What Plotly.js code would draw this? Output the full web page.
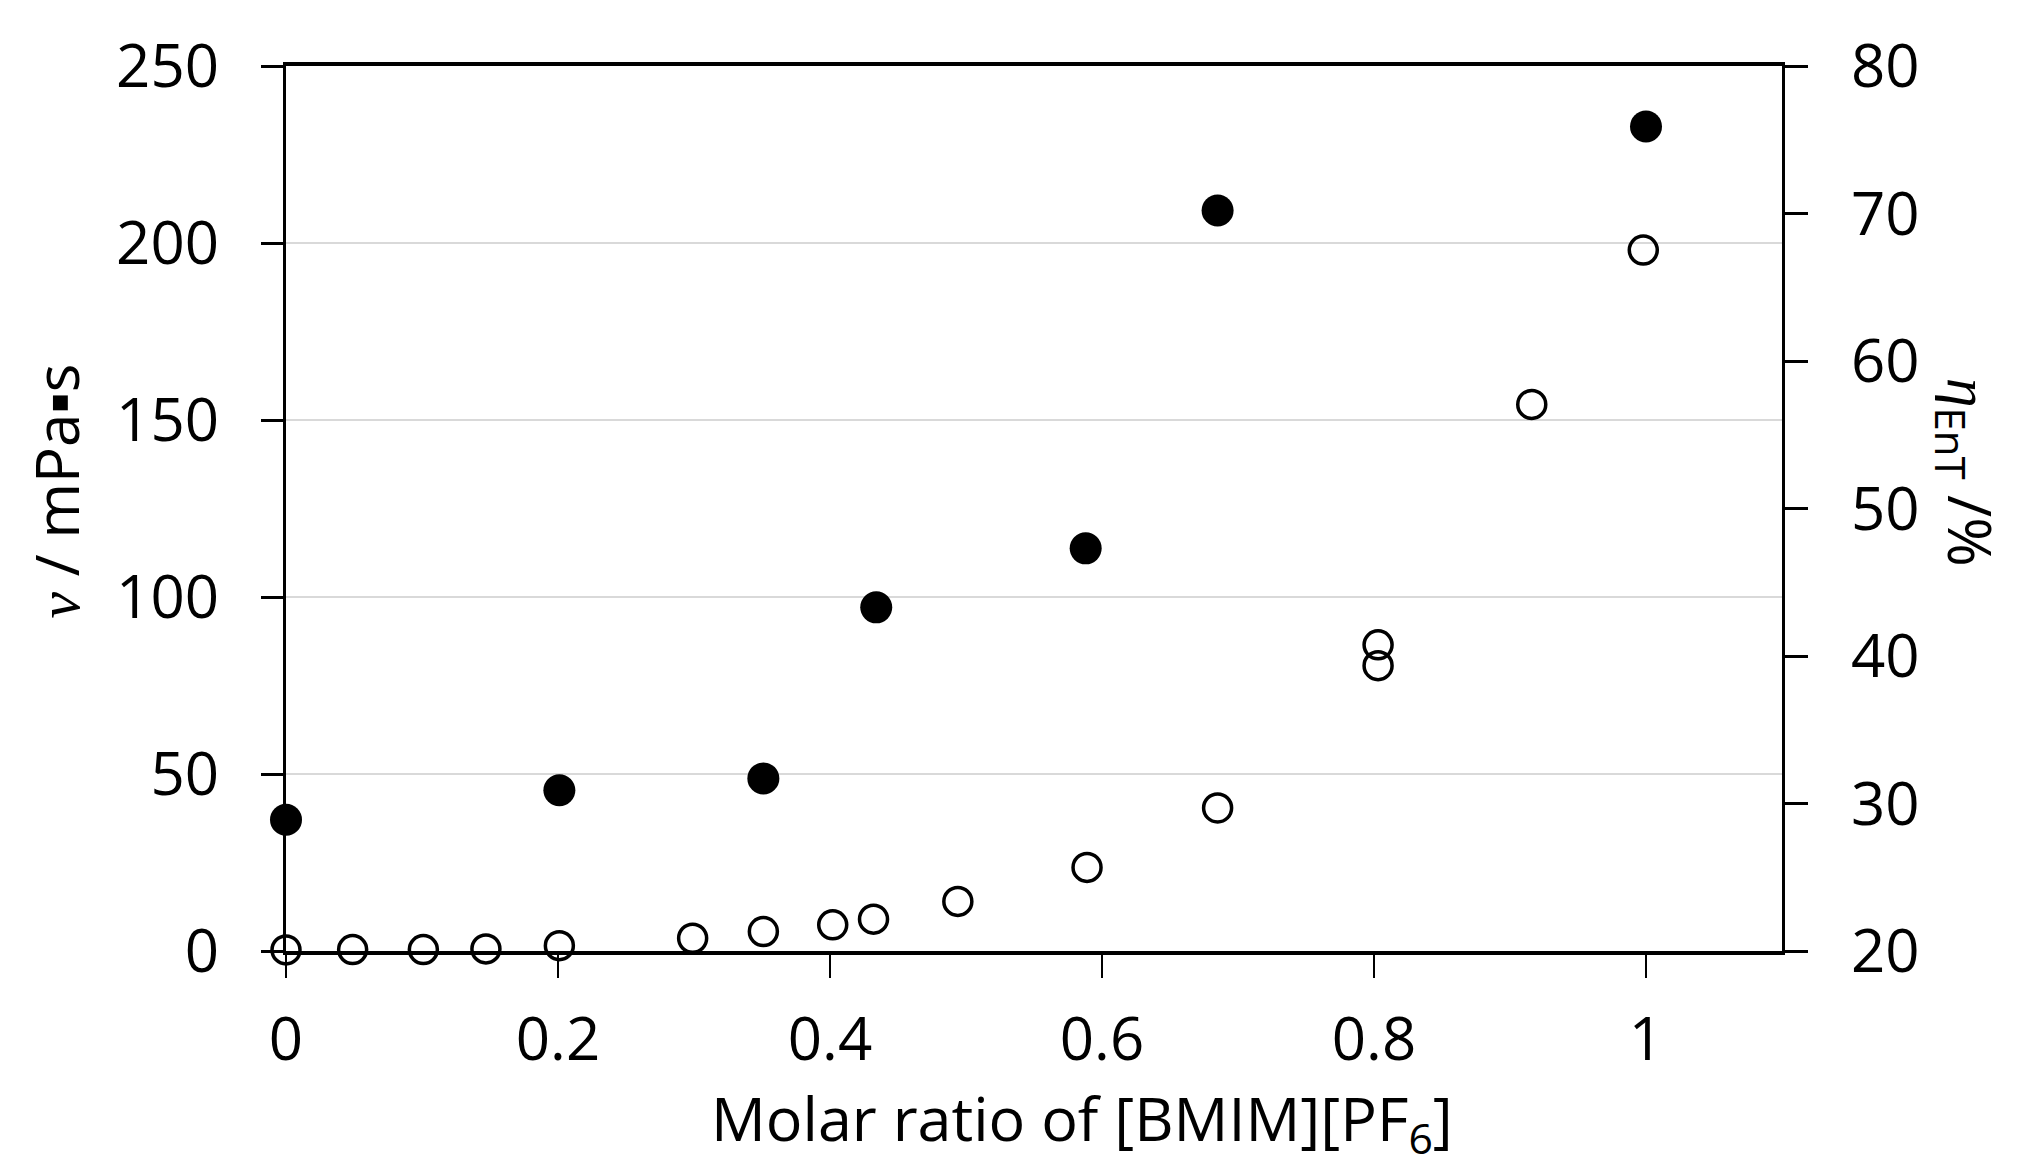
<!DOCTYPE html>
<html>
<head>
<meta charset="utf-8">
<script src="https://cdn.plot.ly/plotly-3.0.1.min.js"></script>
<style>
  html, body { margin: 0; padding: 0; background: #fff; }
  #graphDiv { width: 2034px; height: 1170px; }
</style>
</head>
<body>
<div id="graphDiv"></div>
<script>
// Viscosity (open circles, left axis)
const ratioVisc = [0, 0.049, 0.101, 0.147, 0.201, 0.299, 0.351, 0.402, 0.432, 0.494, 0.589, 0.685, 0.803, 0.803, 0.916, 0.998];
const viscosity = [0.3, 0.4, 0.4, 0.6, 1.5, 3.6, 5.5, 7.4, 9.0, 14.0, 23.6, 40.4, 80.6, 86.5, 154.4, 198.0];

// Efficiency (filled circles, right axis)
const ratioEff = [0, 0.201, 0.351, 0.434, 0.588, 0.685, 1.0];
const efficiency = [28.9, 30.9, 31.7, 43.3, 47.3, 70.2, 75.9];

const xTicks = [0, 0.2, 0.4, 0.6, 0.8, 1];
const xTickText = ['0', '0.2', '0.4', '0.6', '0.8', '1'];

const font = 'Open Sans, sans-serif';
const fs = 60;

// Open circles for viscosity
const viscTrace = {
	type: 'scatter',
	mode: 'markers',
	x: ratioVisc,
	y: viscosity,
	yaxis: 'y',
	cliponaxis: false,
	marker: {
		symbol: 'circle-open',
		size: 28,
		color: '#000',
		line: { color: '#000', width: 3.5 },
	},
};

// Filled circles for efficiency
const effTrace = {
	type: 'scatter',
	mode: 'markers',
	x: ratioEff,
	y: efficiency,
	yaxis: 'y2',
	cliponaxis: false,
	marker: {
		symbol: 'circle',
		size: 32,
		color: '#000',
	},
};

const layout = {
	width: 2034,
	height: 1170,
	margin: { l: 286, r: 252, t: 66, b: 219 },
	paper_bgcolor: '#fff',
	plot_bgcolor: '#fff',
	showlegend: false,
	font: { family: font, size: fs, color: '#000' },
	xaxis: {
		range: [0, 1.1],
		tickvals: xTicks,
		ticktext: xTickText,
		showgrid: false,
		zeroline: false,
		showline: true,
		mirror: true,
		linecolor: '#000',
		linewidth: 4,
		ticks: 'outside',
		ticklen: 23,
		tickwidth: 2,
		tickcolor: '#000',
		ticklabelstandoff: 10,
		tickfont: { family: font, size: fs, color: '#000' },
	},
	yaxis: {
		range: [0, 250],
		dtick: 50,
		showgrid: true,
		gridcolor: '#d9d9d9',
		gridwidth: 2,
		zeroline: false,
		showline: true,
		linecolor: '#000',
		linewidth: 3,
		ticks: 'outside',
		ticklen: 22,
		tickwidth: 3,
		tickcolor: '#000',
		ticklabelstandoff: 30,
		tickfont: { family: font, size: fs, color: '#000' },
	},
	yaxis2: {
		range: [20, 80],
		dtick: 10,
		overlaying: 'y',
		side: 'right',
		showgrid: false,
		zeroline: false,
		showline: true,
		linecolor: '#000',
		linewidth: 3,
		ticks: 'outside',
		ticklen: 23,
		tickwidth: 3,
		tickcolor: '#000',
		ticklabelstandoff: 31,
		tickfont: { family: font, size: fs, color: '#000' },
	},
	annotations: [
		{
			text: 'Molar ratio of [BMIM][PF<sub>6</sub>]',
			xref: 'paper', yref: 'paper',
			x: 0.532, y: -0.193,
			xanchor: 'center', yanchor: 'middle',
			showarrow: false,
			font: { family: font, size: 61, color: '#000' },
		},
		{
			text: '<span style="font-family:Liberation Serif"><i>ν</i></span> / mPa▪s',
			xref: 'paper', yref: 'paper',
			x: -0.154, y: 0.52,
			xanchor: 'center', yanchor: 'middle',
			textangle: -90,
			showarrow: false,
			font: { family: font, size: fs, color: '#000' },
		},
		{
			text: '<span style="font-family:Liberation Serif"><i>η</i></span><sub>EnT</sub> /%',
			xref: 'paper', yref: 'paper',
			x: 1.124, y: 0.541,
			xanchor: 'center', yanchor: 'middle',
			textangle: 90,
			showarrow: false,
			font: { family: font, size: fs, color: '#000' },
		},
	],
};

Plotly.newPlot('graphDiv', [viscTrace, effTrace], layout, { displayModeBar: false, staticPlot: true });
</script>
</body>
</html>
